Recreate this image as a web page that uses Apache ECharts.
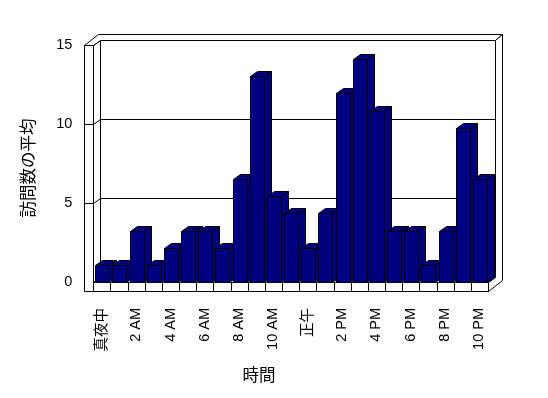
<!DOCTYPE html>
<html>
<head>
<meta charset="utf-8">
<script src="https://cdn.jsdelivr.net/npm/echarts@6/dist/echarts.min.js"></script>
<style>
html,body{margin:0;padding:0;background:#fff;}
#chart{width:548px;height:398px;}
</style>
</head>
<body>
<div id="chart"></div>
<script>
const categories = ['真夜中','1 AM','2 AM','3 AM','4 AM','5 AM','6 AM','7 AM','8 AM','9 AM','10 AM','11 AM',
  '正午','1 PM','2 PM','3 PM','4 PM','5 PM','6 PM','7 PM','8 PM','9 PM','10 PM'];
const visits = [1.08, 1.08, 3.25, 1.08, 2.17, 3.25, 3.25, 2.17, 6.5, 13.0, 5.42, 4.33,
  2.17, 4.33, 11.92, 14.08, 10.83, 3.25, 3.25, 1.08, 3.25, 9.75, 6.5];
const yTicks = [0, 5, 10, 15];
const yTitle = '訪問数の平均';
const xTitle = '時間';

const DX = 7, DY = -4.7;     // depth of plot
const TX = 6.5, TY = -6;     // back wall thickness
const WL = 9.3;              // left wall thickness
const FB = 9;                // floor thickness
const FONT = '"Liberation Sans", "Noto Sans CJK JP", sans-serif';
const s = v => Math.round(v) + 0.5;
const pt = (x, y) => [s(x), s(y)];
const lineStyle = {fill: '#fff', stroke: '#000', lineWidth: 1};

const chart = echarts.init(document.getElementById('chart'), null, {renderer: 'canvas'});

function frameRender(params, api) {
  const yMax = yTicks[yTicks.length - 1];
  const n = categories.length;
  const band = api.size([1, 0])[0];
  const p0 = api.coord([0, 0]);
  const xL = p0[0] - band / 2;
  const xR = api.coord([n - 1, 0])[0] + band / 2;
  const y0 = p0[1];
  const yT = api.coord([0, yMax])[1];
  const yB = y0 + FB;
  const yv = v => api.coord([0, v])[1];
  const poly = (points, style) => ({type: 'polygon', shape: {points: points}, style: Object.assign({}, lineStyle, style || {})});
  const line = (points) => ({type: 'polyline', shape: {points: points}, style: {stroke: '#000', lineWidth: 1, fill: null}});
  const children = [];
  // back wall
  children.push(poly([pt(xL + DX, yT + DY), pt(xR + DX, yT + DY), pt(xR + DX, y0 + DY), pt(xL + DX, y0 + DY)]));
  // left wall inner face
  children.push(poly([pt(xL, yT), pt(xL + DX, yT + DY), pt(xL + DX, y0 + DY), pt(xL, y0)]));
  // floor top
  children.push(poly([pt(xL, y0), pt(xL + DX, y0 + DY), pt(xR + DX, y0 + DY), pt(xR, y0)]));
  // gridlines
  yTicks.forEach(v => {
    if (v > 0 && v < yMax) {
      children.push(line([pt(xL, yv(v)), pt(xL + DX, yv(v) + DY), pt(xR + DX, yv(v) + DY)]));
    }
  });
  // top thickness
  children.push(poly([pt(xL - WL, yT), pt(xL, yT), pt(xL + DX, yT + DY), pt(xR + DX, yT + DY),
    pt(xR + DX + TX, yT + DY + TY), pt(xL - WL + DX + TX, yT + DY + TY)]));
  // right outer side
  children.push(poly([pt(xR + DX, yT + DY), pt(xR + DX + TX, yT + DY + TY), pt(xR + DX + TX, yB + DY + TY),
    pt(xR, yB), pt(xR, y0), pt(xR + DX, y0 + DY)]));
  // left wall front face
  children.push(poly([pt(xL - WL, yT), pt(xL, yT), pt(xL, yB), pt(xL - WL, yB)]));
  yTicks.forEach(v => {
    if (v > 0 && v < yMax) children.push(line([pt(xL - WL, yv(v)), pt(xL, yv(v))]));
  });
  // floor front face
  children.push(poly([pt(xL, y0), pt(xR, y0), pt(xR, yB), pt(xL, yB)]));
  for (let k = 1; k < n; k++) {
    children.push(line([pt(xL + k * band, y0), pt(xL + k * band, yB)]));
  }
  return {type: 'group', children: children};
}

function barRender(params, api) {
  const i = api.value(0), v = api.value(1);
  const top = api.coord([i, v]);
  const base = api.coord([i, 0]);
  const band = api.size([1, 0])[0];
  const w = band * 0.815;
  const x0 = Math.round(top[0] - w / 2 + 0.4);
  const x1 = Math.round(x0 + w);
  const yt = Math.round(top[1]);
  const yb = Math.round(base[1]);
  const st = {fill: '#000080', stroke: '#000', lineWidth: 1};
  return {
    type: 'group',
    children: [
      {type: 'polygon', shape: {points: [pt(x0, yt), pt(x1, yt), pt(x1 + DX, yt + DY), pt(x0 + DX, yt + DY)]}, style: st},
      {type: 'polygon', shape: {points: [pt(x1, yt), pt(x1 + DX, yt + DY), pt(x1 + DX, yb + DY), pt(x1, yb)]}, style: st},
      {type: 'polygon', shape: {points: [pt(x0, yt), pt(x1, yt), pt(x1, yb), pt(x0, yb)]}, style: st}
    ]
  };
}

const option = {
  animation: false,
  backgroundColor: '#fff',
  grid: {left: 93.3, right: 60, top: 44.6, bottom: 116, containLabel: false},
  xAxis: {
    type: 'category',
    data: categories,
    boundaryGap: true,
    axisLine: {show: false},
    axisTick: {show: false},
    splitLine: {show: false},
    axisLabel: {interval: 1, rotate: 90, margin: 26, color: '#000', fontSize: 14.5, fontFamily: FONT}
  },
  yAxis: {
    type: 'value',
    min: 0, max: 15, interval: 5,
    axisLine: {show: false},
    axisTick: {show: false},
    splitLine: {show: false},
    axisLabel: {margin: 21, color: '#000', fontSize: 14.5, fontFamily: FONT}
  },
  series: [
    {type: 'custom', renderItem: frameRender, data: [[0, 0]], clip: false, z: 1, silent: true},
    {type: 'custom', renderItem: barRender, data: visits.map((v, i) => [i, v]), clip: false, z: 2}
  ],
  graphic: [
    {type: 'text', x: 29.7, y: 168, rotation: Math.PI / 2,
      style: {text: yTitle, fontSize: 16.5, fontFamily: FONT, fill: '#000', align: 'center', verticalAlign: 'middle'}},
    {type: 'text', x: 259, y: 376,
      style: {text: xTitle, fontSize: 16.5, fontFamily: FONT, fill: '#000', align: 'center', verticalAlign: 'middle'}}
  ]
};
chart.setOption(option);
</script>
</body>
</html>
